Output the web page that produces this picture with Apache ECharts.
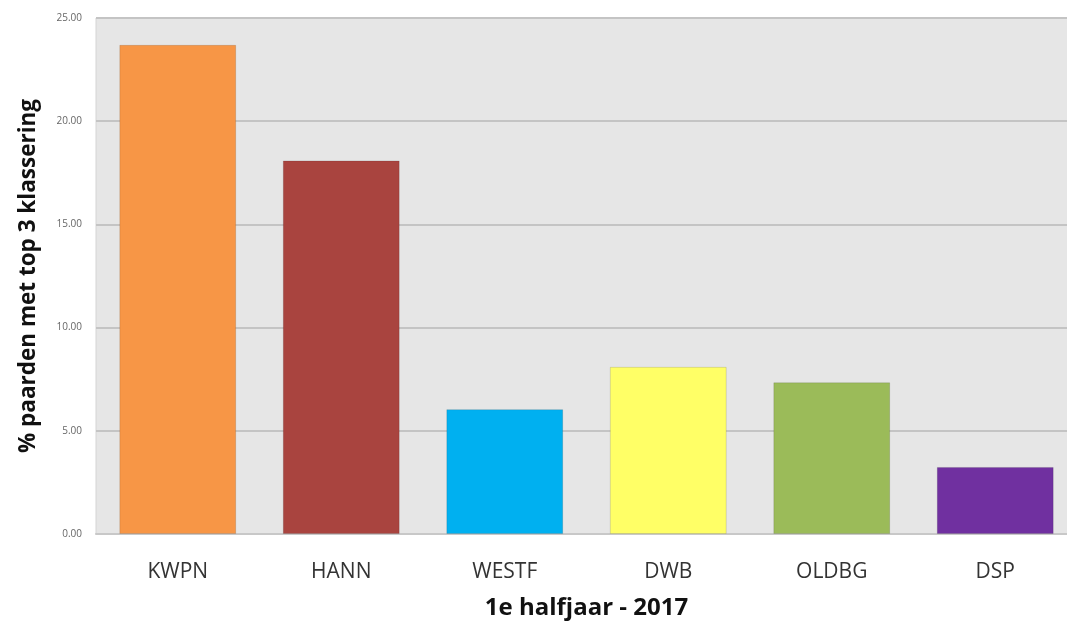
<!DOCTYPE html>
<html>
<head>
<meta charset="utf-8">
<script src="https://cdn.jsdelivr.net/npm/echarts@6/dist/echarts.min.js"></script>
<style>html,body{margin:0;padding:0;background:#fff;}#c{width:1067px;height:623px;}</style>
</head>
<body>
<div id="c"></div>
<script>
const categories = ['KWPN', 'HANN', 'WESTF', 'DWB', 'OLDBG', 'DSP'];
const values = [23.7, 18.1, 6.05, 8.1, 7.35, 3.25];
const barColors = ['#f79646', '#a9443f', '#00b0f0', '#ffff66', '#9bbb59', '#7030a0'];
const yTicks = { min: 0, max: 25, interval: 5 };

const chart = echarts.init(document.getElementById('c'));
chart.setOption({
  animation: false,
  grid: { left: 96, top: 18, width: 981, bottom: 89, outerBoundsMode: 'none', containLabel: false, show: true, backgroundColor: '#e6e6e6', borderColor: '#d4d4d4', borderWidth: 1 },
  xAxis: {
    type: 'category', data: categories,
    axisLine: { show: true, lineStyle: { color: '#c8c8c8', width: 2 } },
    axisTick: { show: false },
    axisLabel: { color: '#333', fontSize: 21, fontFamily: 'Open Sans', margin: 28 },
    name: '1e halfjaar - 2017', nameLocation: 'middle', nameGap: 62,
    nameTextStyle: { color: '#111', fontSize: 24, fontWeight: 'bold', fontFamily: 'Open Sans' }
  },
  yAxis: {
    type: 'value', min: yTicks.min, max: yTicks.max, interval: yTicks.interval,
    axisLine: { show: false }, axisTick: { show: false },
    splitLine: { lineStyle: { color: '#c4c4c4', width: 2 } },
    axisLabel: { color: '#666', fontSize: 10, fontFamily: 'Open Sans', margin: 14, formatter: v => v.toFixed(2) },
    name: '% paarden met top 3 klassering', nameLocation: 'middle', nameGap: 56,
    nameTextStyle: { color: '#111', fontSize: 22.5, fontWeight: 'bold', fontFamily: 'Open Sans' }
  },
  series: [{
    type: 'bar',
    barCategoryGap: '28.5%',
    data: values.map((v, i) => ({ value: v, itemStyle: { color: barColors[i], borderColor: 'rgba(0,0,0,0.12)', borderWidth: 1 } }))
  }]
});
</script>
</body>
</html>
